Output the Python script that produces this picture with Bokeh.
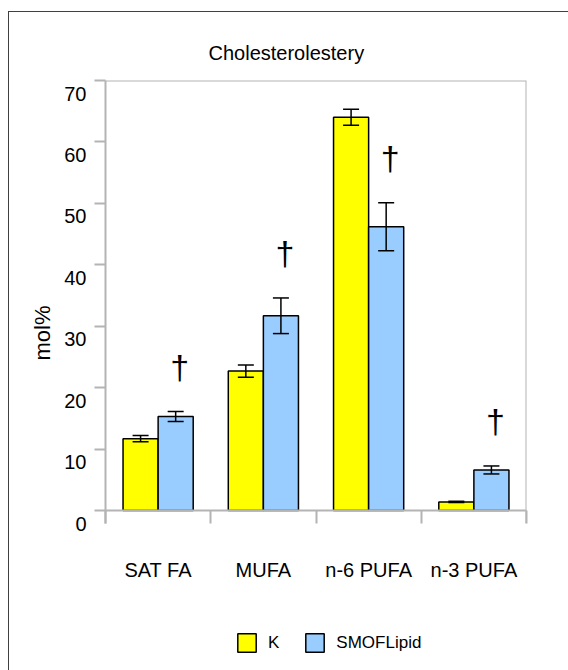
from bokeh.plotting import figure
from bokeh.layouts import column
from bokeh.models import (Range1d, FixedTicker, LinearAxis, Whisker, ColumnDataSource,
                          Legend, LegendItem, TeeHead, Span, Title)
from bokeh.core.properties import value
from bokeh.embed import file_html
from bokeh.resources import INLINE

# Fatty-acid composition of cholesteryl esters (mol%), mean +/- SEM
categories = ["SAT FA", "MUFA", "n-6 PUFA", "n-3 PUFA"]
k_mean = [11.7, 22.7, 64.0, 1.4]
k_err = [0.5, 1.0, 1.3, 0.1]
smof_mean = [15.3, 31.7, 46.2, 6.6]
smof_err = [0.8, 2.9, 3.9, 0.65]
significance = ["\u2020", "\u2020", "\u2020", "\u2020"]
series_names = ["K", "SMOFLipid"]
series_colors = ["#ffff00", "#99ccff"]
y_ticks = [0, 10, 20, 30, 40, 50, 60, 70]
title_text = "Cholesterolestery"
y_label = "mol%"

FONT = "Liberation Sans"
GRAY = "#b4b4b4"
BAR_W = 1 / 3
# the value axis runs a little below zero so the tick numbers can sit
# just under their ticks (13 px at 430 px per 70 units)
LABEL_DROP = 13 * 70 / 430

centers = [i + 0.5 for i in range(len(categories))]
n = len(categories)

src = ColumnDataSource(dict(
    x_k=[c - BAR_W / 2 for c in centers],
    x_s=[c + BAR_W / 2 for c in centers],
    k=k_mean,
    s=smof_mean,
    k_lo=[m - e for m, e in zip(k_mean, k_err)],
    k_hi=[m + e for m, e in zip(k_mean, k_err)],
    s_lo=[m - e for m, e in zip(smof_mean, smof_err)],
    s_hi=[m + e for m, e in zip(smof_mean, smof_err)],
    mark=significance,
))

y_min, y_max = y_ticks[0], y_ticks[-1]
p = figure(width=560, height=588,
           x_range=Range1d(0, n), y_range=Range1d(y_min - LABEL_DROP, y_max),
           x_axis_type=None, y_axis_type=None,
           output_backend="svg", toolbar_location=None,
           min_border_left=96, min_border_right=43, min_border_top=68, min_border_bottom=77)
p.extra_y_ranges = {"labels": Range1d(y_min, y_max + LABEL_DROP)}
p.outline_line_color = None
p.background_fill_color = "white"
p.border_fill_color = "white"

# title
p.title.text = title_text
p.title.align = "left"
p.title.offset = 103
p.title.standoff = 34
p.title.text_font = FONT
p.title.text_font_size = "20px"
p.title.text_font_style = "normal"
p.title.text_color = "black"

# plot box: top edge, right edge and the zero line
for loc, dim in ((y_max, "width"), (0, "width"), (n, "height")):
    p.add_layout(Span(location=loc, dimension=dim, line_color=GRAY, line_width=2))

# y axis: ticks only
y_tick_axis = LinearAxis(ticker=FixedTicker(ticks=y_ticks),
                         axis_line_color=GRAY, axis_line_width=2,
                         major_tick_line_color=GRAY, major_tick_line_width=2,
                         major_tick_out=11, major_tick_in=0,
                         minor_tick_line_color=None,
                         major_label_overrides={v: "" for v in y_ticks},
                         major_label_text_font_size="1px", major_label_standoff=0)
# y axis: tick numbers
y_num_axis = LinearAxis(y_range_name="labels", ticker=FixedTicker(ticks=y_ticks),
                        axis_line_color=None, major_tick_line_color=None,
                        minor_tick_line_color=None, major_tick_out=0, major_tick_in=0,
                        major_label_standoff=8, major_label_text_font=FONT,
                        major_label_text_font_size="20px", major_label_text_color="black")
p.add_layout(y_tick_axis, "left")
p.add_layout(y_num_axis, "left")
p.add_layout(Title(text=y_label, align="left", offset=163, standoff=14,
                   text_font=FONT, text_font_size="22px", text_font_style="normal",
                   text_color="black"), "left")

# x axis: group boundary ticks, then category names centred under each group
x_tick_axis = LinearAxis(ticker=FixedTicker(ticks=list(range(n + 1))),
                         axis_line_color=None,
                         major_tick_line_color=GRAY, major_tick_line_width=2,
                         major_tick_out=0, major_tick_in=13,
                         minor_tick_line_color=None,
                         major_label_overrides={i: "" for i in range(n + 1)},
                         major_label_text_font_size="1px", major_label_standoff=0)
x_name_axis = LinearAxis(ticker=FixedTicker(ticks=centers),
                         major_label_overrides={c: name for c, name in zip(centers, categories)},
                         axis_line_color=None, major_tick_line_color=None,
                         minor_tick_line_color=None, major_tick_out=0, major_tick_in=0,
                         major_label_standoff=35, major_label_text_font=FONT,
                         major_label_text_font_size="20px", major_label_text_color="black")
p.add_layout(x_tick_axis, "below")
p.add_layout(x_name_axis, "below")

# bars
p.vbar(x="x_k", top="k", bottom=0, width=BAR_W, source=src,
       fill_color=series_colors[0], line_color="black", line_width=1.5)
p.vbar(x="x_s", top="s", bottom=0, width=BAR_W, source=src,
       fill_color=series_colors[1], line_color="black", line_width=1.5)

# error bars
for base, lo, hi in (("x_k", "k_lo", "k_hi"), ("x_s", "s_lo", "s_hi")):
    p.add_layout(Whisker(source=src, base=base, lower=lo, upper=hi, level="overlay",
                         line_color="black", line_width=1.5,
                         upper_head=TeeHead(size=16, line_color="black", line_width=1.5),
                         lower_head=TeeHead(size=16, line_color="black", line_width=1.5)))

# significance markers above the SMOFLipid bars
p.text(x="x_s", y="s_hi", text="mark", source=src,
       text_font=value(FONT), text_font_size="34px", text_color="black",
       text_align="center", text_baseline="bottom", x_offset=4, y_offset=-26)

# legend strip under the chart; its swatch renderers are hidden and only
# provide the legend's glyph styling
key = figure(width=560, height=70, x_range=Range1d(0, n), y_range=Range1d(-3, -2),
             x_axis_type=None, y_axis_type=None, output_backend="svg",
             toolbar_location=None, min_border=0)
key.outline_line_color = None
key.background_fill_color = "white"
key.border_fill_color = "white"
swatches = [key.vbar(x=col_x, top=col_top, bottom=0, width=BAR_W, source=src,
                     fill_color=c, line_color="black", line_width=1.5, visible=False)
            for col_x, col_top, c in (("x_k", "k", series_colors[0]),
                                      ("x_s", "s", series_colors[1]))]
legend = Legend(items=[LegendItem(label=name, renderers=[r])
                       for name, r in zip(series_names, swatches)],
                orientation="horizontal", location=(130, 10),
                glyph_width=23, glyph_height=23, label_standoff=10, spacing=24,
                padding=5, margin=0, label_width=0, label_height=35,
                border_line_color=None, background_fill_alpha=0,
                inactive_fill_alpha=0,
                label_text_font=FONT, label_text_font_size="17px",
                label_text_baseline="top", label_text_color="black")
key.add_layout(legend, "center")

page = column(p, key, margin=(11, 0, 0, 8), spacing=0,
              styles={"border-left": "1px solid #404040", "border-top": "1px solid #404040",
                      "background-color": "white"})

open("out.html", "w").write(file_html(page, INLINE))
